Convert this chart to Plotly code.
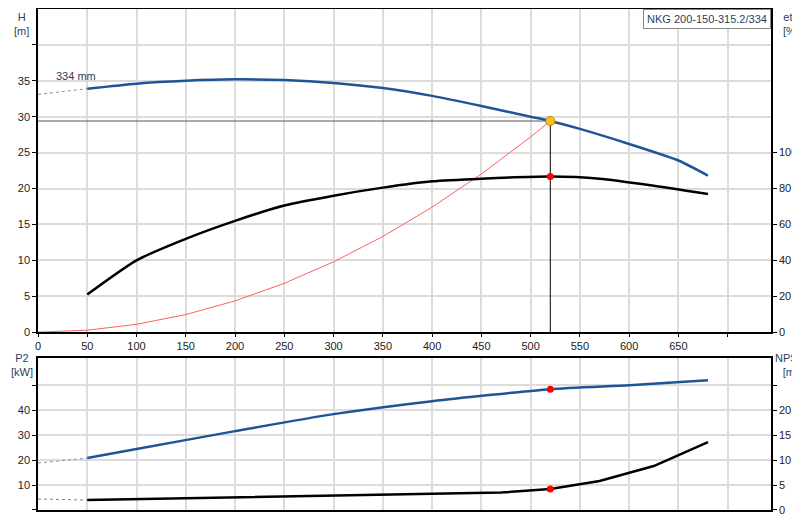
import plotly.graph_objects as go

q_h = [50, 100, 150, 200, 250, 300, 350, 400, 450, 500, 520, 550, 600, 650, 680]
h = [33.9, 34.6, 35.0, 35.2, 35.1, 34.7, 34.0, 32.9, 31.5, 30.0, 29.4, 28.3, 26.2, 23.9, 21.8]
q_h_ext = [0, 50]
h_ext = [33.1, 33.9]
q_eta = [50, 100, 150, 200, 250, 300, 350, 400, 450, 520, 570, 620, 680]
eta = [21, 40, 52, 62, 70.5, 76, 80.5, 84, 85.5, 86.7, 85.5, 82, 77]
q_sys = [0, 50, 100, 150, 200, 250, 300, 350, 400, 450, 500, 520]
h_sys = [0, 0.27, 1.09, 2.45, 4.35, 6.8, 9.79, 13.32, 17.4, 22.02, 27.19, 29.4]
q_p2 = [50, 100, 200, 300, 400, 520, 600, 680]
p2 = [20.8, 24.4, 31.6, 38.4, 43.6, 48.4, 50.0, 52.0]
q_p2_ext = [0, 50]
p2_ext = [18.8, 20.8]
q_npsh = [50, 200, 300, 400, 470, 520, 570, 625, 680]
npsh = [2.0, 2.5, 2.8, 3.2, 3.5, 4.2, 5.8, 8.8, 13.6]
q_npsh_ext = [0, 50]
npsh_ext = [2.2, 2.0]
duty_q, duty_h, duty_eta, duty_p2, duty_npsh = 520, 29.4, 86.7, 48.4, 4.2

BLUE = "#1f5496"
fig = go.Figure()
# top
fig.add_trace(go.Scatter(x=[0, duty_q], y=[duty_h, duty_h], mode="lines", line=dict(color="#555", width=1), xaxis="x", yaxis="y"))
fig.add_trace(go.Scatter(x=[duty_q, duty_q], y=[0, duty_h], mode="lines", line=dict(color="black", width=1), xaxis="x", yaxis="y"))
fig.add_trace(go.Scatter(x=q_sys, y=h_sys, mode="lines", line=dict(color="#ff6060", width=1), xaxis="x", yaxis="y"))
fig.add_trace(go.Scatter(x=q_h_ext, y=h_ext, mode="lines", line=dict(color="#8090b0", width=1, dash="dot"), xaxis="x", yaxis="y"))
fig.add_trace(go.Scatter(x=q_h, y=h, mode="lines", line=dict(color=BLUE, width=2.5, shape="spline", smoothing=0.6), xaxis="x", yaxis="y"))
fig.add_trace(go.Scatter(x=q_eta, y=eta, mode="lines", line=dict(color="black", width=2.5, shape="spline", smoothing=0.6), xaxis="x", yaxis="y2"))
fig.add_trace(go.Scatter(x=[duty_q], y=[duty_eta], mode="markers", marker=dict(color="red", size=7), xaxis="x", yaxis="y2"))
fig.add_trace(go.Scatter(x=[duty_q], y=[duty_h], mode="markers", marker=dict(color="#ffc020", size=9, line=dict(color="#c08000", width=1)), xaxis="x", yaxis="y"))
# bottom
fig.add_trace(go.Scatter(x=q_p2_ext, y=p2_ext, mode="lines", line=dict(color="#8090b0", width=1, dash="dot"), xaxis="x2", yaxis="y3"))
fig.add_trace(go.Scatter(x=q_p2, y=p2, mode="lines", line=dict(color=BLUE, width=2.5, shape="spline", smoothing=0.6), xaxis="x2", yaxis="y3"))
fig.add_trace(go.Scatter(x=[duty_q], y=[duty_p2], mode="markers", marker=dict(color="red", size=7), xaxis="x2", yaxis="y3"))
fig.add_trace(go.Scatter(x=q_npsh_ext, y=npsh_ext, mode="lines", line=dict(color="#808080", width=1, dash="dot"), xaxis="x2", yaxis="y4"))
fig.add_trace(go.Scatter(x=q_npsh, y=npsh, mode="lines", line=dict(color="black", width=2.5), xaxis="x2", yaxis="y4"))
fig.add_trace(go.Scatter(x=[duty_q], y=[duty_npsh], mode="markers", marker=dict(color="red", size=7), xaxis="x2", yaxis="y4"))

qt = list(range(0, 701, 50))
qtext = [str(v) for v in qt[:-1]] + [""]
ax = dict(showline=True, linecolor="black", linewidth=1.5, gridcolor="#dcdcdc", gridwidth=1.5, automargin=False,
          zeroline=False, ticks="outside", ticklen=4, tickcolor="black", tickfont=dict(size=11, color="#222"))
fig.update_layout(
    width=800, height=520, showlegend=False, plot_bgcolor="white", paper_bgcolor="white",
    margin=dict(l=30, r=37, t=1, b=18, autoexpand=False), font=dict(family="Liberation Sans, Arial", size=11),
    xaxis=dict(ax, range=[0, 744], domain=[0, 1], anchor="y", tickvals=qt, ticktext=qtext, mirror=True, ticklen=3),
    yaxis=dict(ax, range=[0, 45], domain=[0.355, 1], anchor="x", tickvals=list(range(0, 41, 5)),
               ticktext=[str(v) for v in range(0, 36, 5)] + [""], mirror=False),
    yaxis2=dict(ax, range=[0, 180], overlaying="y", side="right", anchor="x", showgrid=False,
                tickvals=list(range(0, 101, 20))),
    xaxis2=dict(ax, range=[0, 744], domain=[0, 1], anchor="y3", tickvals=qt, showticklabels=False, mirror=True, ticks=""),
    yaxis3=dict(ax, range=[0, 60.8], domain=[0, 0.303], anchor="x2", tickvals=list(range(0, 51, 10)),
                ticktext=["", "10", "20", "30", "40", ""]),
    yaxis4=dict(ax, range=[0, 30.4], overlaying="y3", side="right", anchor="x2", showgrid=False,
                tickvals=list(range(0, 26, 5)), ticktext=["0", "5", "10", "15", "20", ""]),
    annotations=[
        dict(text="H<br>[m]", x=-0.022, y=1.0, xref="paper", yref="paper", showarrow=False, xanchor="center", yanchor="top", font=dict(size=11)),
        dict(text="eta<br>[%]", x=1.027, y=1.0, xref="paper", yref="paper", showarrow=False, xanchor="center", yanchor="top", font=dict(size=11)),
        dict(text="P2<br>[kW]", x=-0.022, y=0.32, xref="paper", yref="paper", showarrow=False, xanchor="center", yanchor="top", font=dict(size=11)),
        dict(text="NPSH<br>[m]", x=1.027, y=0.32, xref="paper", yref="paper", showarrow=False, xanchor="center", yanchor="top", font=dict(size=11)),
        dict(text="Q [m³/h]", x=705, y=-0.3, xref="x", yref="y", showarrow=False, xanchor="left", yanchor="top", font=dict(size=11)),
        dict(text="334 mm", x=16, y=34.6, xref="x", yref="y", showarrow=False, xanchor="left", yanchor="bottom", font=dict(size=11)),
        dict(text="NKG 200-150-315.2/334", x=1.0, y=1.0, xref="paper", yref="paper", showarrow=False, xanchor="right", yanchor="top",
             bordercolor="#888", borderwidth=1, bgcolor="white", font=dict(size=11), borderpad=3),
    ],
)
fig.write_html("out.html")
